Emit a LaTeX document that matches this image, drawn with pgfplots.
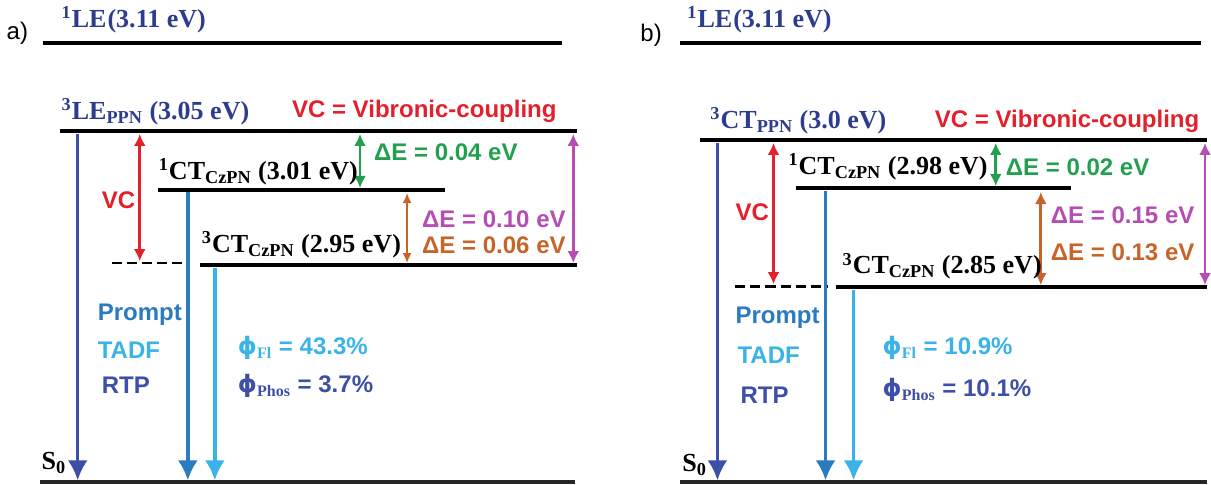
\documentclass[border=0pt]{standalone}
\usepackage{pgfplots}
\pgfplotsset{compat=1.18}
\usepackage{fontspec}
\setmainfont{Liberation Sans}
\newfontfamily\serf{Liberation Serif}
\newfontfamily\djv{DejaVu Sans}
\usetikzlibrary{arrows.meta}
\definecolor{navy}{HTML}{2E3C8E}
\definecolor{dblue}{HTML}{3D4FA6}
\definecolor{mblue}{HTML}{2A7BC0}
\definecolor{lblue}{HTML}{3BB3E8}
\definecolor{vcred}{HTML}{E3202B}
\definecolor{dgreen}{HTML}{22A050}
\definecolor{mag}{HTML}{B54DB5}
\definecolor{brn}{HTML}{C8642A}
\newcommand{\st}[3]{\textsuperscript{#1}#2\textsubscript{#3}}
\newcommand{\ph}{{\djv\bfseries ϕ}}
\tikzset{
  lvl/.style={black,line width=1.9pt},
  dsh/.style={black,line width=1.4pt,dash pattern=on 5pt off 2.5pt},
  down/.style={line width=1.7pt,-{Latex[length=10pt,width=10pt]}},
  dbl/.style={line width=1.4pt,{Latex[length=6pt,width=6pt]}-{Latex[length=6pt,width=6pt]}},
  dblt/.style={line width=0.9pt,{Latex[length=5pt,width=4.5pt]}-{Latex[length=5pt,width=4.5pt]}},
  stl/.style={anchor=west,font=\fontsize{13}{15}\serf\bfseries},
  sfl/.style={anchor=west,font=\fontsize{12}{14}\bfseries}}
\begin{document}
\begin{tikzpicture}
\begin{axis}[width=605.5pt,height=242pt,scale only axis,
  xmin=0,xmax=1211,ymin=0,ymax=484,y dir=reverse,hide axis,clip=false]
% ---- panel a
\addplot[lvl] coordinates {(48,43) (567,43)};
\addplot[lvl] coordinates {(65,131) (582,131)};
\addplot[lvl] coordinates {(163,190) (450,190)};
\addplot[lvl] coordinates {(205,265) (582,265)};
\addplot[dsh] coordinates {(117,263) (190,263)};
\addplot[black!85,line width=1.9pt] coordinates {(45,482) (580,482)};
\addplot[dblue,down] coordinates {(83,134) (83,480)};
\addplot[mblue,down] coordinates {(193,192) (193,480)};
\addplot[lblue,down] coordinates {(220,268) (220,480)};
\addplot[vcred,dbl] coordinates {(145,134) (145,261)};
\addplot[dgreen,dbl] coordinates {(365,134) (365,188)};
\addplot[brn,dblt] coordinates {(412,193) (412,263)};
\addplot[mag,dbl] coordinates {(578,134) (578,263)};
\node[anchor=west,font=\fontsize{12}{14}\selectfont] at (axis cs:5,33) {a)};
\node[stl,text=navy] at (axis cs:60,20) {\st{1}{LE}{}(3.11 eV)};
\node[stl,text=navy] at (axis cs:60,112) {\st{3}{LE}{PPN} (3.05 eV)};
\node[sfl,text=vcred] at (axis cs:290,111) {VC = Vibronic-coupling};
\node[stl] at (axis cs:157,172) {\st{1}{CT}{CzPN} (3.01 eV)};
\node[stl] at (axis cs:200,245) {\st{3}{CT}{CzPN} (2.95 eV)};
\node[sfl,text=dgreen] at (axis cs:372,152) {ΔE = 0.04 eV};
\node[sfl,text=mag] at (axis cs:420,219) {ΔE = 0.10 eV};
\node[sfl,text=brn] at (axis cs:420,245) {ΔE = 0.06 eV};
\node[sfl,text=vcred] at (axis cs:100,200) {VC};
\node[sfl,text=mblue] at (axis cs:96,315) {Prompt};
\node[sfl,text=lblue] at (axis cs:96,350) {TADF};
\node[sfl,text=dblue] at (axis cs:100,385) {RTP};
\node[sfl,text=lblue] at (axis cs:236,348) {\ph\textsubscript{\serf Fl} = 43.3\%};
\node[sfl,text=dblue] at (axis cs:236,386) {\ph\textsubscript{\serf Phos} = 3.7\%};
\node[stl] at (axis cs:40,463) {S\textsubscript{0}};
% ---- panel b
\addplot[lvl] coordinates {(685,43) (1205,43)};
\addplot[lvl] coordinates {(705,140) (1211,140)};
\addplot[lvl] coordinates {(800,188) (1075,188)};
\addplot[lvl] coordinates {(840,287) (1211,287)};
\addplot[dsh] coordinates {(740,286) (832,286)};
\addplot[black!85,line width=1.9pt] coordinates {(685,482) (1211,482)};
\addplot[dblue,down] coordinates {(722,143) (722,480)};
\addplot[mblue,down] coordinates {(830,191) (830,480)};
\addplot[lblue,down] coordinates {(858,290) (858,480)};
\addplot[vcred,dbl] coordinates {(778,143) (778,284)};
\addplot[dgreen,dbl] coordinates {(1000,143) (1000,186)};
\addplot[brn,dbl] coordinates {(1045,192) (1045,285)};
\addplot[mag,dbl] coordinates {(1209,143) (1209,285)};
\node[anchor=west,font=\fontsize{12}{14}\selectfont] at (axis cs:638,35) {b)};
\node[stl,text=navy] at (axis cs:685,20) {\st{1}{LE}{}(3.11 eV)};
\node[stl,text=navy] at (axis cs:708,121) {\st{3}{CT}{PPN} (3.0 eV)};
\node[sfl,text=vcred] at (axis cs:932,121) {VC = Vibronic-coupling};
\node[stl] at (axis cs:786,167) {\st{1}{CT}{CzPN} (2.98 eV)};
\node[stl] at (axis cs:840,266) {\st{3}{CT}{CzPN} (2.85 eV)};
\node[sfl,text=dgreen] at (axis cs:1003,167) {ΔE = 0.02 eV};
\node[sfl,text=mag] at (axis cs:1048,215) {ΔE = 0.15 eV};
\node[sfl,text=brn] at (axis cs:1048,252) {ΔE = 0.13 eV};
\node[sfl,text=vcred] at (axis cs:733,212) {VC};
\node[sfl,text=mblue] at (axis cs:733,318) {Prompt};
\node[sfl,text=lblue] at (axis cs:735,355) {TADF};
\node[sfl,text=dblue] at (axis cs:738,395) {RTP};
\node[sfl,text=lblue] at (axis cs:880,348) {\ph\textsubscript{\serf Fl} = 10.9\%};
\node[sfl,text=dblue] at (axis cs:880,390) {\ph\textsubscript{\serf Phos} = 10.1\%};
\node[stl] at (axis cs:680,465) {S\textsubscript{0}};
\end{axis}
\end{tikzpicture}
\end{document}
